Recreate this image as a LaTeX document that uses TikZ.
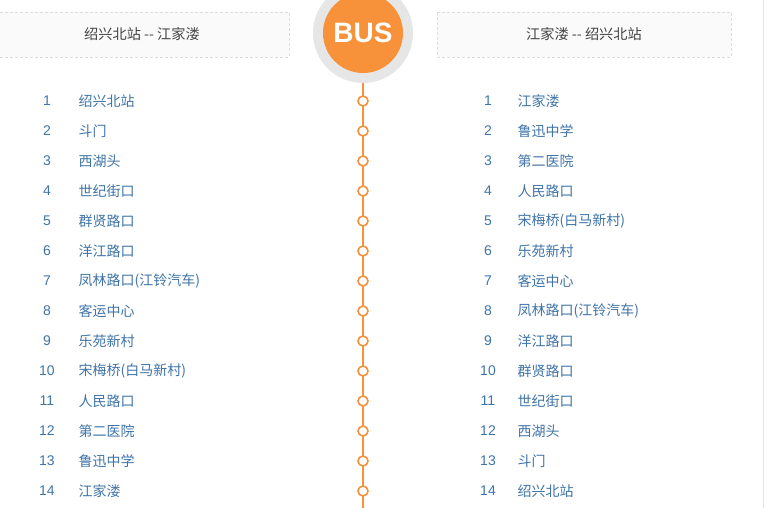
\documentclass[tikz,border=0pt]{standalone}
\usepackage{fontspec}
\setmainfont{Liberation Sans}
\newfontfamily\cjk{Noto Sans CJK SC}
\definecolor{busorange}{HTML}{F7923A}
\definecolor{ringgray}{HTML}{E6E6E6}
\definecolor{stblue}{HTML}{3F74A8}
\definecolor{hdtext}{HTML}{444444}
\definecolor{boxfill}{HTML}{FAFAFA}
\definecolor{boxline}{HTML}{DDDDDD}
\tikzset{
  hdbox/.style={draw=boxline, fill=boxfill, dash pattern=on 3pt off 2pt, line width=0.8pt},
  hdlabel/.style={text=hdtext, font=\fontsize{14.2}{16}\selectfont\cjk, inner sep=0pt},
  num/.style={text=stblue, font=\fontsize{14}{16}\selectfont, inner sep=0pt, anchor=center},
  stname/.style={text=stblue, font=\fontsize{14}{16}\selectfont\cjk, inner sep=0pt, anchor=west},
  stop/.style={circle, draw=busorange, line width=1.6pt, fill=white, minimum size=10pt, inner sep=0pt},
  routeline/.style={draw=busorange, line width=2pt}
}
\begin{document}
\begin{tikzpicture}[x=1pt,y=-1pt]
\useasboundingbox (0,0) rectangle (764,508);
\fill[white] (0,0) rectangle (764,508);
% header boxes
\draw[hdbox] (-5,12) rectangle (289,57);
\draw[hdbox] (437,12) rectangle (731,57);
\node[hdlabel] (hl) at (142,34) {绍兴北站 -- 江家溇};
\node[hdlabel] (hr) at (584,34) {江家溇 -- 绍兴北站};
% right edge line
\draw[ringgray, line width=1pt] (763.5,0) -- (763.5,508);
% route line
\coordinate (top) at (363,33);
\coordinate (bot) at (363,510);
\draw[routeline] (top) -- (bot);
% bus
\fill[ringgray] (363,33) circle (50);
\node[circle, fill=busorange, minimum size=80pt, inner sep=0pt, text=white,
      font=\fontsize{28}{30}\selectfont\bfseries] (bus) at (363,33) {BUS};
% stops
\foreach \i in {1,...,14}{
  \node[stop] (s\i) at (363,{101+30*(\i-1)}) {};
}
% left list
\foreach \i/\n in {1/绍兴北站,2/斗门,3/西湖头,4/世纪街口,5/群贤路口,6/洋江路口,7/凤林路口(江铃汽车),8/客运中心,9/乐苑新村,10/宋梅桥(白马新村),11/人民路口,12/第二医院,13/鲁迅中学,14/江家溇}{
  \node[num] (ln\i) at (47,{101+30*(\i-1)}) {\i};
  \node[stname] (lt\i) at (78.5,{101+30*(\i-1)}) {\n};
}
% right list
\foreach \i/\n in {1/江家溇,2/鲁迅中学,3/第二医院,4/人民路口,5/宋梅桥(白马新村),6/乐苑新村,7/客运中心,8/凤林路口(江铃汽车),9/洋江路口,10/群贤路口,11/世纪街口,12/西湖头,13/斗门,14/绍兴北站}{
  \node[num] (rn\i) at (488,{101+30*(\i-1)}) {\i};
  \node[stname] (rt\i) at (517.5,{101+30*(\i-1)}) {\n};
}
\end{tikzpicture}
\end{document}
